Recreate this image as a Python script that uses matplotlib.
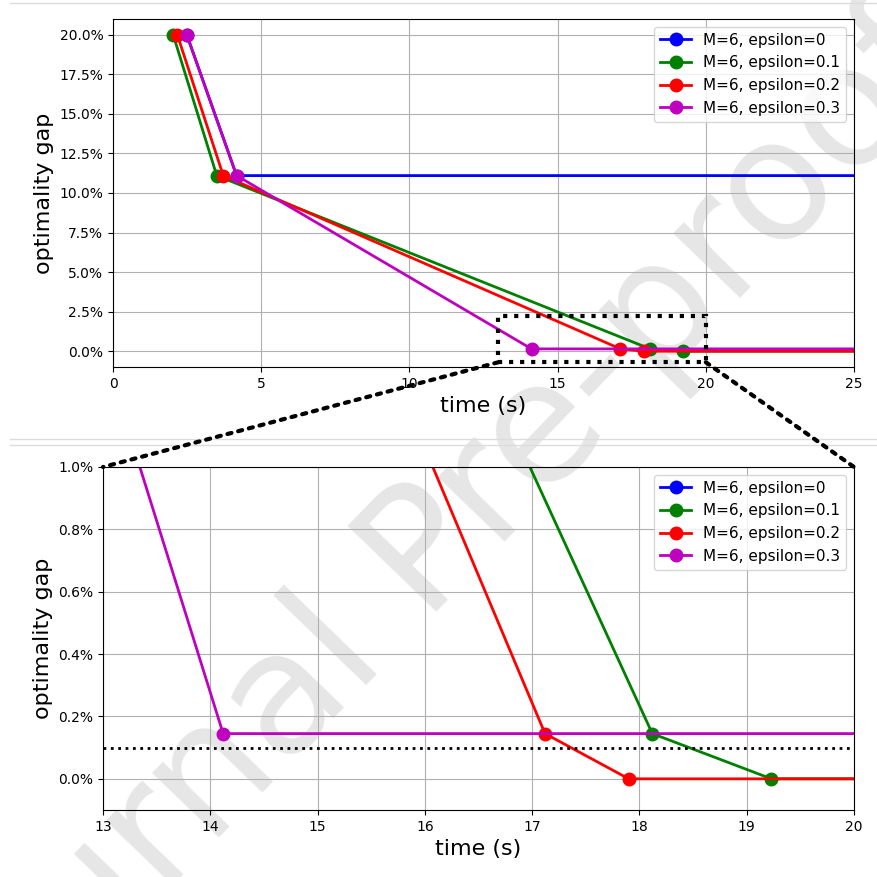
import matplotlib
matplotlib.use("Agg")
import matplotlib.pyplot as plt
from matplotlib.ticker import PercentFormatter
from matplotlib.patches import Rectangle, ConnectionPatch
from matplotlib.lines import Line2D

# ---- data (time in s, optimality gap as fraction) ----
labels = ["M=6, epsilon=0", "M=6, epsilon=0.1", "M=6, epsilon=0.2", "M=6, epsilon=0.3"]
colors = ["b", "g", "r", "m"]

time_eps0 = [2.49, 4.17, 30.0]
gap_eps0 = [0.20, 0.111, 0.111]

time_eps01 = [2.03, 3.50, 18.12, 19.23, 30.0]
gap_eps01 = [0.20, 0.111, 0.00145, 0.0, 0.0]

time_eps02 = [2.17, 3.72, 17.12, 17.90, 30.0]
gap_eps02 = [0.20, 0.111, 0.00145, 0.0, 0.0]

time_eps03 = [2.49, 4.17, 14.12, 30.0]
gap_eps03 = [0.20, 0.111, 0.00145, 0.00145]

series = [(time_eps0, gap_eps0), (time_eps01, gap_eps01),
          (time_eps02, gap_eps02), (time_eps03, gap_eps03)]

top_yticks = [0.0, 0.025, 0.05, 0.075, 0.10, 0.125, 0.15, 0.175, 0.20]
bot_yticks = [0.0, 0.002, 0.004, 0.006, 0.008, 0.010]
threshold = 0.001

W, H = 878, 877
fig = plt.figure(figsize=(W / 100, H / 100), dpi=100)

# watermark behind everything
fig.text(0.502, 0.373, "Journal Pre-proof", fontsize=122, color="#e6e6e6",
         rotation=46, ha="center", va="center", rotation_mode="anchor", zorder=-5)

# separator lines (image borders)
for ypix in (3, 439, 445):
    fig.add_artist(Line2D([10 / W, 1.0], [1 - ypix / H] * 2, color="#dcdcdc", lw=1, zorder=-4))

ax1 = fig.add_axes([113 / W, 1 - 367 / H, (854 - 113) / W, (367 - 19) / H])
ax2 = fig.add_axes([103 / W, 1 - 810 / H, (854 - 103) / W, (810 - 467) / H])

for ax in (ax1, ax2):
    ax.set_facecolor("none")
    for (t, g), c, lab in zip(series, colors, labels):
        ax.plot(t, g, "-o", color=c, lw=2, markersize=9, label=lab)
    ax.grid(True, color="#b0b0b0", lw=0.8)
    ax.yaxis.set_major_formatter(PercentFormatter(xmax=1, decimals=1))
    ax.tick_params(labelsize=10)
    ax.set_xlabel("time (s)", fontsize=16)
    ax.set_ylabel("optimality gap", fontsize=16)
    ax.legend(loc="upper right", fontsize=11)

ax1.set_xlim(0, 25)
ax1.set_ylim(-0.01, 0.21)
ax1.set_yticks(top_yticks)
ax1.set_xticks([0, 5, 10, 15, 20, 25])

ax2.set_xlim(13, 20)
ax2.set_ylim(-0.001, 0.010)
ax2.set_yticks(bot_yticks)
ax2.axhline(threshold, color="k", ls=":", lw=2)

# zoom rectangle and connectors
rx0, rx1, ry0, ry1 = 13.0, 20.0, -0.007, 0.022
ax1.add_patch(Rectangle((rx0, ry0), rx1 - rx0, ry1 - ry0, fill=False,
                        ls=":", lw=3, ec="k", zorder=5))
for xa, xb in ((rx0, 0.0), (rx1, 1.0)):
    cp = ConnectionPatch(xyA=(xa, ry0), coordsA=ax1.transData,
                         xyB=(xb, 1.0), coordsB=ax2.transAxes,
                         ls=":", lw=3, color="k")
    cp.set_clip_on(False)
    fig.add_artist(cp)

fig.savefig("out.png", dpi=100)
